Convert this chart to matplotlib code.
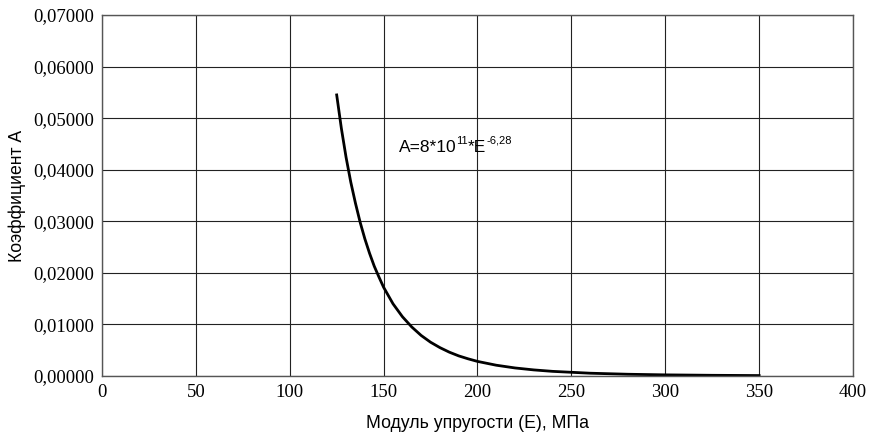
import matplotlib
matplotlib.use("Agg")
import matplotlib.pyplot as plt
from matplotlib.ticker import FuncFormatter
from matplotlib.transforms import offset_copy

E_values = [125, 127.5, 130, 132.5, 135, 137.5, 140, 142.5, 145, 147.5, 150, 155, 160,
            165, 170, 175, 180, 185, 190, 195, 200, 210, 220, 230, 240, 260, 280,
            300, 325, 350]
A_values = [0.0545, 0.0480, 0.0424, 0.0376, 0.0335, 0.0298, 0.0266, 0.0238, 0.0213,
            0.0192, 0.0172, 0.0140, 0.0115, 0.0095, 0.00786, 0.00655, 0.0055, 0.00462,
            0.0039, 0.00333, 0.00283, 0.00209, 0.00156, 0.00118, 0.0009, 0.00054,
            0.00034, 0.00022, 0.000135, 0.000085]
x_ticks = [0, 50, 100, 150, 200, 250, 300, 350, 400]
y_ticks = [0.0, 0.01, 0.02, 0.03, 0.04, 0.05, 0.06, 0.07]

fig = plt.figure(figsize=(8.78, 4.32), dpi=100)
ax = fig.add_axes([102/878, 1-376/432, 751/878, 361/432])

ax.plot(E_values, A_values, color='black', lw=2.0, solid_joinstyle='round')

ax.set_xlim(0, 400)
ax.set_ylim(0, 0.07)
ax.set_xticks(x_ticks)
ax.set_yticks(y_ticks)
ax.yaxis.set_major_formatter(FuncFormatter(lambda v, p: f"{v:.5f}".replace('.', ',')))
ax.grid(True, color='#222222', lw=0.8)
ax.set_axisbelow(True)
for s in ax.spines.values():
    s.set_color('#555555')
    s.set_linewidth(1.0)
ax.tick_params(length=0, pad=6, labelsize=13.5)
for lab in ax.get_xticklabels() + ax.get_yticklabels():
    lab.set_fontfamily('Liberation Serif')

ax.set_xlabel('Модуль упругости (Е), МПа', fontfamily='Liberation Sans', fontsize=12.7, labelpad=10)
ax.set_ylabel('Коэффициент А', fontfamily='Liberation Sans', fontsize=12.7, labelpad=5)

# formula annotation built from pieces (normal / superscript)
pieces = [('A=8*10', False), ('11', True), ('*E', False), ('-6,28', True)]
fig.canvas.draw()
renderer = fig.canvas.get_renderer()
dx = 0.0
for txt, sup in pieces:
    tr = offset_copy(ax.transData, fig=fig, x=dx, y=(6 if sup else 0), units='points')
    t = ax.text(158, 0.0434, txt, transform=tr, fontfamily='Liberation Sans',
                fontsize=(8 if sup else 12.5), va='baseline', ha='left')
    bb = t.get_window_extent(renderer=renderer)
    dx += bb.width * 72 / fig.dpi

fig.savefig('out.png', dpi=100)
